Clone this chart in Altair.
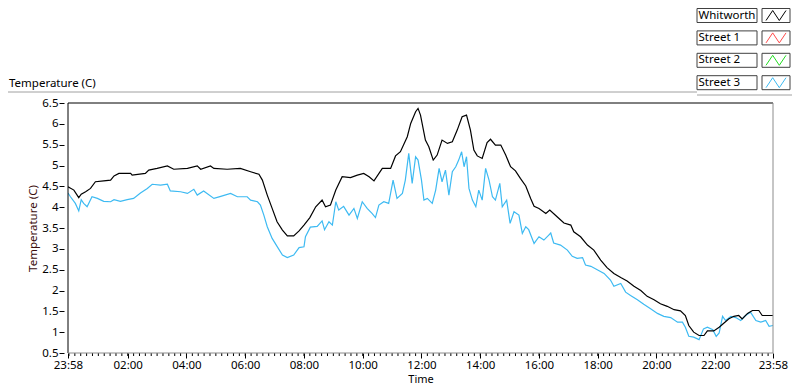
import altair as alt
import pandas as pd

# ---------------- data ----------------
series_names = ["Whitworth", "Street 1", "Street 2", "Street 3"]
series_colors = ["#000000", "#ff4a4a", "#22dd22", "#3dbaf2"]

whitworth_times = [
    "23:58", "00:10", "00:20", "00:25", "00:34", "00:44", "00:54", "01:11", "01:25", "01:32",
    "01:42", "02:06", "02:09", "02:36", "02:43", "03:00", "03:21", "03:34", "04:02", "04:22",
    "04:29", "04:49", "04:56", "05:23", "05:50", "06:11", "06:28", "06:35", "06:45", "06:55",
    "07:05", "07:16", "07:26", "07:39", "07:50", "08:00", "08:12", "08:24", "08:37", "08:44",
    "08:54", "09:05", "09:18", "09:35", "09:49", "10:02", "10:13", "10:23", "10:40", "10:57",
    "11:07", "11:17", "11:31", "11:38", "11:48", "11:53", "11:58", "12:08", "12:15", "12:24",
    "12:32", "12:42", "12:53", "13:03", "13:13", "13:23", "13:32", "13:40", "13:47", "13:54",
    "14:04", "14:14", "14:21", "14:31", "14:42", "14:52", "15:02", "15:12", "15:22", "15:33",
    "15:43", "15:50", "16:00", "16:14", "16:22", "16:37", "16:51", "17:05", "17:11", "17:25",
    "17:39", "17:52", "18:06", "18:19", "18:33", "18:47", "19:00", "19:14", "19:28", "19:41",
    "19:55", "20:08", "20:22", "20:36", "20:49", "20:59", "21:06", "21:16", "21:27", "21:37",
    "21:44", "21:57", "22:08", "22:18", "22:28", "22:38", "22:48", "22:55", "23:06", "23:16",
    "23:29", "23:36", "23:58",
]
whitworth_temps = [
    4.49, 4.41, 4.23, 4.31, 4.37, 4.45, 4.61, 4.63, 4.65, 4.75,
    4.81, 4.81, 4.77, 4.81, 4.89, 4.93, 4.99, 4.91, 4.93, 4.99,
    4.91, 4.99, 4.93, 4.91, 4.93, 4.85, 4.79, 4.65, 4.29, 3.97,
    3.65, 3.45, 3.31, 3.31, 3.43, 3.57, 3.75, 4.01, 4.17, 4.01,
    4.05, 4.41, 4.73, 4.71, 4.77, 4.81, 4.73, 4.63, 4.93, 4.93,
    5.23, 5.33, 5.69, 6.01, 6.29, 6.37, 6.21, 5.61, 5.45, 5.13,
    5.25, 5.61, 5.53, 5.57, 5.85, 6.17, 6.21, 5.85, 5.37, 5.23,
    5.17, 5.55, 5.63, 5.49, 5.49, 5.25, 4.97, 4.87, 4.69, 4.51,
    4.21, 4.02, 3.97, 3.85, 3.93, 3.77, 3.62, 3.57, 3.41, 3.29,
    3.09, 2.97, 2.73, 2.55, 2.41, 2.31, 2.23, 2.10, 2.00, 1.86,
    1.78, 1.68, 1.62, 1.54, 1.51, 1.40, 1.16, 1.00, 0.92, 0.92,
    1.03, 1.03, 1.12, 1.22, 1.32, 1.38, 1.40, 1.32, 1.45, 1.52,
    1.52, 1.40, 1.40,
]

street1_times = []
street1_temps = []
street2_times = []
street2_temps = []

street3_times = [
    "23:58", "00:03", "00:13", "00:20", "00:25", "00:30", "00:37", "00:47", "00:58", "01:11",
    "01:25", "01:32", "01:45", "01:59", "02:12", "02:26", "02:40", "02:50", "03:07", "03:21",
    "03:27", "03:48", "04:02", "04:15", "04:22", "04:35", "04:56", "05:10", "05:30", "05:44",
    "06:04", "06:11", "06:25", "06:31", "06:38", "06:45", "06:55", "07:05", "07:16", "07:26",
    "07:39", "07:50", "08:00", "08:03", "08:13", "08:27", "08:37", "08:42", "08:51", "08:58",
    "09:05", "09:11", "09:21", "09:32", "09:42", "09:49", "09:59", "10:09", "10:19", "10:26",
    "10:33", "10:43", "10:53", "11:02", "11:10", "11:21", "11:27", "11:34", "11:41", "11:48",
    "11:53", "12:00", "12:05", "12:12", "12:22", "12:29", "12:36", "12:42", "12:49", "12:56",
    "13:03", "13:10", "13:16", "13:22", "13:27", "13:32", "13:37", "13:44", "13:51", "13:57",
    "14:04", "14:11", "14:18", "14:25", "14:31", "14:40", "14:45", "14:54", "15:01", "15:09",
    "15:19", "15:26", "15:33", "15:39", "15:50", "16:00", "16:10", "16:20", "16:24", "16:30",
    "16:44", "16:58", "17:08", "17:18", "17:29", "17:35", "17:46", "17:59", "18:13", "18:26",
    "18:33", "18:47", "18:57", "19:07", "19:21", "19:34", "19:48", "20:02", "20:15", "20:29",
    "20:43", "20:53", "20:59", "21:06", "21:16", "21:27", "21:36", "21:44", "21:55", "22:02",
    "22:08", "22:15", "22:21", "22:32", "22:42", "22:52", "23:02", "23:12", "23:23", "23:33",
    "23:43", "23:50", "23:58",
]
street3_temps = [
    4.34, 4.25, 4.09, 3.91, 4.18, 4.09, 4.01, 4.25, 4.21, 4.14,
    4.13, 4.18, 4.14, 4.18, 4.21, 4.34, 4.45, 4.55, 4.53, 4.55,
    4.39, 4.37, 4.33, 4.43, 4.29, 4.39, 4.21, 4.26, 4.33, 4.25,
    4.25, 4.17, 4.13, 4.05, 3.81, 3.53, 3.25, 3.06, 2.85, 2.79,
    2.85, 3.03, 3.05, 3.29, 3.52, 3.54, 3.67, 3.46, 3.65, 3.57,
    4.13, 3.93, 4.02, 3.81, 3.97, 3.73, 4.13, 3.97, 3.85, 3.75,
    4.05, 4.13, 4.09, 4.65, 4.21, 4.33, 4.65, 5.29, 4.57, 5.21,
    5.13, 4.65, 4.17, 4.21, 4.09, 4.41, 4.93, 4.61, 4.89, 4.29,
    4.85, 4.97, 5.13, 5.33, 4.97, 5.21, 4.45, 4.17, 4.01, 4.41,
    4.17, 4.93, 4.65, 4.25, 4.17, 4.57, 4.01, 4.17, 3.61, 3.89,
    3.81, 3.37, 3.53, 3.46, 3.13, 3.29, 3.21, 3.33, 3.38, 3.14,
    3.09, 2.97, 2.82, 2.77, 2.79, 2.61, 2.58, 2.50, 2.41, 2.25,
    2.10, 2.17, 1.96, 1.88, 1.78, 1.67, 1.56, 1.45, 1.38, 1.35,
    1.24, 1.24, 1.12, 0.90, 0.88, 0.82, 1.08, 1.12, 1.06, 0.90,
    0.98, 1.38, 1.28, 1.38, 1.35, 1.28, 1.40, 1.48, 1.28, 1.24,
    1.28, 1.14, 1.16,
]

x_tick_labels = ["23:58", "02:00", "04:00", "06:00", "08:00", "10:00", "12:00",
                 "14:00", "16:00", "18:00", "20:00", "22:00", "23:58"]
y_tick_values = [0.5, 1, 1.5, 2, 2.5, 3, 3.5, 4, 4.5, 5, 5.5, 6, 6.5]
minor_tick_step_min = 12


def to_minutes(labels):
    """Minutes since midnight; the first 23:58 belongs to the previous day."""
    out = []
    for i, s in enumerate(labels):
        h, m = map(int, s.split(":"))
        v = h * 60 + m
        if i == 0 and v > 720:
            v -= 1440
        out.append(v)
    return out


frames = []
for name, t, v in [("Street 3", street3_times, street3_temps),
                   ("Street 1", street1_times, street1_temps),
                   ("Street 2", street2_times, street2_temps),
                   ("Whitworth", whitworth_times, whitworth_temps)]:
    if t:
        frames.append(pd.DataFrame({"minute": to_minutes(t), "temp": v, "series": name}))
df = pd.concat(frames, ignore_index=True)

x_tick_values = to_minutes(x_tick_labels)
x_tick_values[-1] = 1438
label_expr = " : ".join(
    f"datum.value == {val} ? '{lab}'" for val, lab in zip(x_tick_values, x_tick_labels)
) + " : ''"
minor_df = pd.DataFrame({"minute": list(range(0, 1440, minor_tick_step_min))})
legend_df = pd.DataFrame({"series": series_names})

# ---------------- chart ----------------
W, H = 705, 250
FONT = "Noto Sans"
x_scale = alt.Scale(domain=[-2, 1438], nice=False, zero=False)
y_scale = alt.Scale(domain=[0.5, 6.5], nice=False, zero=False)
color_scale = alt.Scale(domain=series_names, range=series_colors)
one = pd.DataFrame({"k": [0]})

lines = alt.Chart(df).mark_line(strokeWidth=1.2, clip=True).encode(
    x=alt.X("minute:Q", scale=x_scale,
            axis=alt.Axis(values=x_tick_values, labelExpr=label_expr, tickSize=5,
                          domain=False, grid=False, title="Time", labelPadding=1,
                          labelFlush=False, labelOverlap=False, titleFontSize=11,
                          titleY=29, titleBaseline="alphabetic", tickColor="#000000")),
    y=alt.Y("temp:Q", scale=y_scale,
            axis=alt.Axis(values=y_tick_values, format="~g", offset=4, tickSize=5,
                          domain=False, grid=False, title="Temperature (C)",
                          labelFlush=False, labelOverlap=False,
                          labelPadding=1, titlePadding=3, titleColor="#3a0c0c",
                          tickColor="#000000")),
    color=alt.Color("series:N", scale=color_scale, legend=None),
)

minor_ticks = alt.Chart(minor_df).mark_rule(color="#000000", strokeWidth=1).encode(
    x=alt.X("minute:Q", scale=x_scale), y=alt.value(H), y2=alt.value(H + 3)
)

top_border = alt.Chart(one).mark_rule(color="#000000").encode(
    x=alt.value(0), x2=alt.value(W), y=alt.value(0))
left_border = alt.Chart(one).mark_rule(color="#000000").encode(
    x=alt.value(0), y=alt.value(0), y2=alt.value(H))
right_border = alt.Chart(one).mark_rule(color="#8c8c8c").encode(
    x=alt.value(W), y=alt.value(0), y2=alt.value(H))
bottom_border = alt.Chart(one).mark_rule(color="#8c8c8c").encode(
    x=alt.value(0), x2=alt.value(W), y=alt.value(H))
header_line = alt.Chart(one).mark_rule(color="#a0a0a0").encode(
    x=alt.value(-60), x2=alt.value(629), y=alt.value(-11))
legend_line = alt.Chart(one).mark_rule(color="#a0a0a0").encode(
    x=alt.value(629), x2=alt.value(724), y=alt.value(-8))
header_text = alt.Chart(one).mark_text(
    align="left", baseline="alphabetic", font=FONT, fontSize=11.5, color="#000000"
).encode(x=alt.value(-59), y=alt.value(-16), text=alt.value("Temperature (C)"))

leg_y = alt.Y("series:N", axis=None,
              scale=alt.Scale(type="point", domain=series_names, range=[-87.5, -20.3], padding=0))
name_box = alt.Chart(legend_df).mark_point(
    shape="M-1,-0.2333L1,-0.2333L1,0.2333L-1,0.2333Z", size=3600, filled=False,
    stroke="#404040", strokeWidth=1, opacity=1
).encode(x=alt.value(659), y=leg_y)
icon_box = alt.Chart(legend_df).mark_point(
    shape="M-1,-0.5L1,-0.5L1,0.5L-1,0.5Z", size=784, filled=False,
    stroke="#404040", strokeWidth=1, opacity=1
).encode(x=alt.value(708), y=leg_y)
name_text = alt.Chart(legend_df).mark_text(
    align="left", baseline="middle", font=FONT, fontSize=11.5, color="#000000"
).encode(x=alt.value(630.5), y=leg_y, text="series:N")
icon_line = alt.Chart(legend_df).mark_point(
    shape="M-1,0.5L-0.33,-0.5L0.33,0.5L1,-0.5", size=400, filled=False,
    strokeWidth=1, opacity=1
).encode(x=alt.value(708), y=leg_y,
         color=alt.Color("series:N", scale=color_scale, legend=None))

chart = alt.layer(
    lines, minor_ticks, top_border, left_border, right_border, bottom_border,
    header_line, legend_line, header_text, name_box, icon_box, name_text, icon_line
).resolve_scale(y="independent").properties(
    width=W, height=H,
    autosize=alt.AutoSizeParams(type="none"),
    padding={"left": 60, "top": 95, "right": 19, "bottom": 31},
).configure_view(stroke=None).configure_axis(
    labelFont=FONT, labelFontSize=11.5, labelColor="#000000",
    titleFont=FONT, titleFontSize=11.5, titleFontWeight="normal", titleColor="#000000",
)

chart.save("out.html", embed_options={"renderer": "svg", "actions": False})
